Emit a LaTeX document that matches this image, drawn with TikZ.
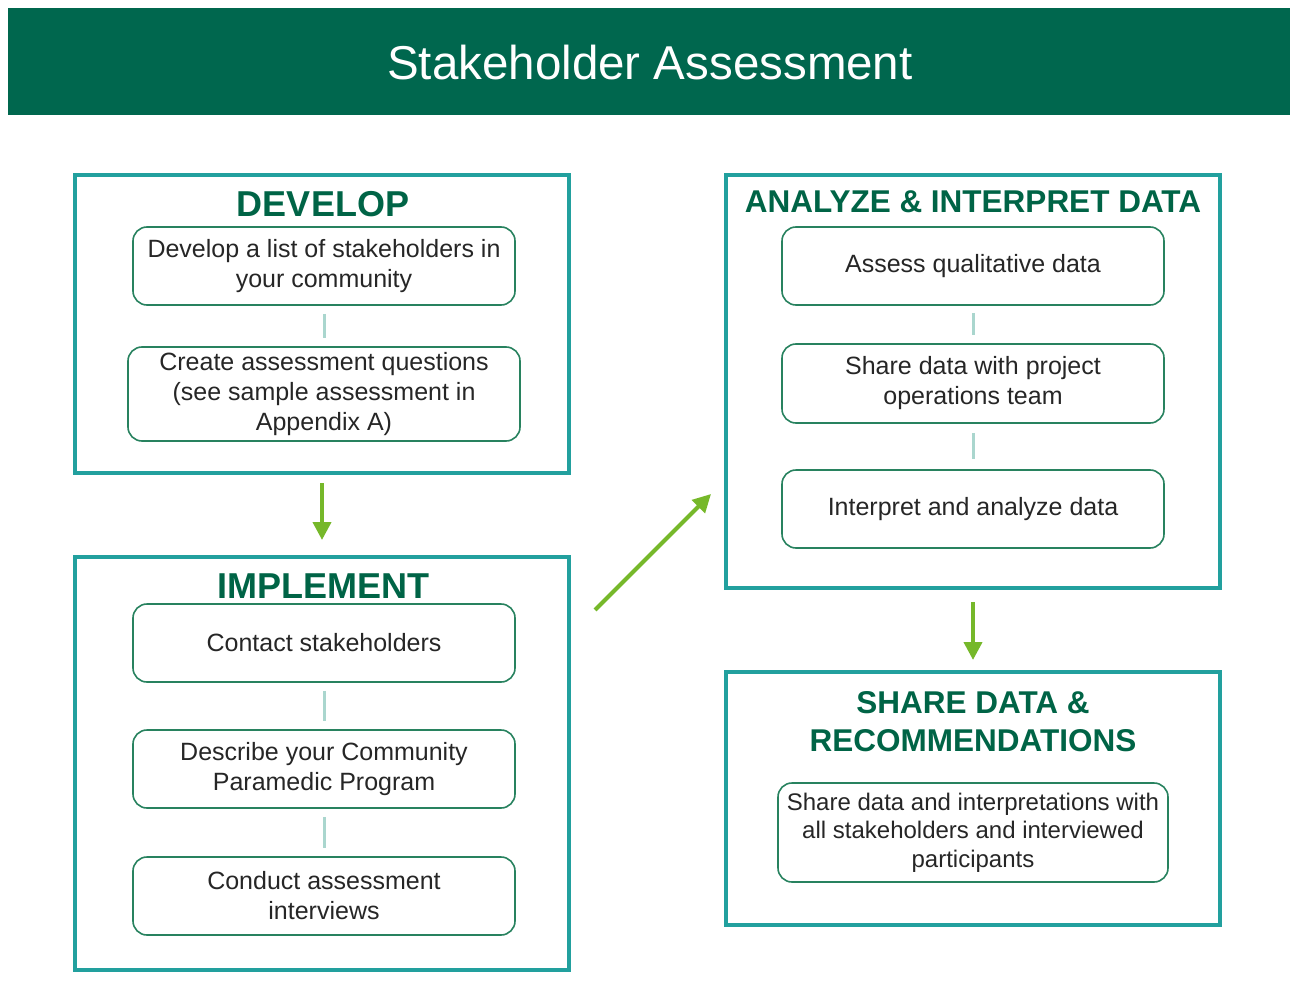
\documentclass[tikz,border=0pt]{standalone}
\usepackage{fontspec}
\setmainfont{Liberation Sans}
\usetikzlibrary{arrows.meta}
\definecolor{banner}{RGB}{0,103,78}
\definecolor{headgreen}{RGB}{0,100,70}
\definecolor{frame}{RGB}{34,160,158}
\definecolor{stepline}{RGB}{40,130,95}
\definecolor{link}{RGB}{170,214,206}
\definecolor{flow}{RGB}{118,184,42}
\definecolor{bodytext}{RGB}{38,38,38}
\begin{document}
\begin{tikzpicture}[x=1pt,y=-1pt,
  stage/.style={draw=frame,line width=4pt,inner sep=0pt},
  bighead/.style={text=headgreen,font=\bfseries\fontsize{36}{38}\selectfont,inner sep=0pt},
  smallhead/.style={text=headgreen,font=\bfseries\fontsize{31.5}{38}\selectfont,inner sep=0pt,align=center},
  stepbox/.style={draw=stepline,line width=1.6pt,rounded corners=14pt,inner sep=0pt,
    text=bodytext,align=center,font=\fontsize{25}{30}\selectfont},
  linkline/.style={draw=link,line width=3pt},
  flowarrow/.style={draw=flow,line width=4pt,-{Triangle[length=18pt,width=18pt]}}
]
\useasboundingbox (0,0) rectangle (1295,1000);

% title banner
\fill[banner] (8,8) rectangle (1290,115);
\node[text=white,font=\fontsize{47.5}{50}\selectfont,inner sep=0pt] (title) at (650,63) {Stakeholder Assessment};

% stage frames
\node[stage,minimum width=494pt,minimum height=298pt] (develop) at (322,324) {};
\node[stage,minimum width=494pt,minimum height=413pt] (implement) at (322,763.5) {};
\node[stage,minimum width=494pt,minimum height=413pt] (analyze) at (973,381.5) {};
\node[stage,minimum width=494pt,minimum height=253pt] (share) at (973,798.5) {};

% stage headings
\node[bighead] (developT) at (323,204) {DEVELOP};
\node[bighead] (implementT) at (323,586) {IMPLEMENT};
\node[smallhead] (analyzeT) at (973,202) {ANALYZE \& INTERPRET DATA};
\node[smallhead] (shareT) at (973,722) {SHARE DATA \&\\RECOMMENDATIONS};

% develop steps
\node[stepbox,minimum width=382pt,minimum height=78pt] (d1) at (324,266) {Develop a list of stakeholders in\\your community};
\node[stepbox,minimum width=392pt,minimum height=94pt] (d2) at (324,394) {Create assessment questions\\(see sample assessment in\\Appendix A)};

% implement steps
\node[stepbox,minimum width=382pt,minimum height=78pt] (i1) at (324,643) {Contact stakeholders};
\node[stepbox,minimum width=382pt,minimum height=78pt] (i2) at (324,769) {Describe your Community\\Paramedic Program};
\node[stepbox,minimum width=382pt,minimum height=78pt] (i3) at (324,896) {Conduct assessment\\interviews};

% analyze steps
\node[stepbox,minimum width=382pt,minimum height=78pt] (a1) at (973,266) {Assess qualitative data};
\node[stepbox,minimum width=382pt,minimum height=79pt] (a2) at (973,383.5) {Share data with project\\operations team};
\node[stepbox,minimum width=382pt,minimum height=78pt] (a3) at (973,509) {Interpret and analyze data};

% share step
\node[stepbox,minimum width=390pt,minimum height=99pt,font=\fontsize{24}{28.5}\selectfont] (s1) at (973,832.5) {Share data and interpretations with\\all stakeholders and interviewed\\participants};

% links inside the frames
\draw[linkline,shorten <=8pt,shorten >=8pt] (d1) -- (d2);
\draw[linkline,shorten <=8pt,shorten >=8pt] (i1) -- (i2);
\draw[linkline,shorten <=8pt,shorten >=8pt] (i2) -- (i3);
\draw[linkline,shorten <=7pt,shorten >=8pt] (a1) -- (a2);
\draw[linkline,shorten <=9pt,shorten >=10pt] (a2) -- (a3);

% flow between stages
\draw[flowarrow,shorten <=8pt,shorten >=15pt] (develop.south) -- (implement.north);
\coordinate (diagA) at (595,610);
\coordinate (diagB) at (711,494);
\draw[flowarrow] (diagA) -- (diagB);
\draw[flowarrow,shorten <=12pt,shorten >=10pt] (analyze.south) -- (share.north);
\end{tikzpicture}
\end{document}
